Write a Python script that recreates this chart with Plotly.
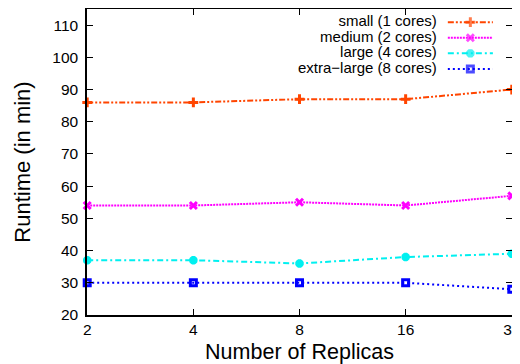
import math
import plotly.graph_objects as go

replicas = [2, 4, 8, 16, 32]
tick_labels = ["2", "4", "8", "16", "32"]
series_names = ["small (1 cores)", "medium (2 cores)", "large (4 cores)", "extra\u2212large (8 cores)"]
small = [86, 86, 87, 87, 90]
medium = [54, 54, 55, 54, 57]
large = [37, 37, 36, 38, 39]
xlarge = [30, 30, 30, 30, 28]
y_ticks = [20, 30, 40, 50, 60, 70, 80, 90, 100, 110]

colors = ["#ff4500", "#ff00ff", "#00f0f0", "#0000ff"]
dashes = ["6px,2px,2px,2px,2px,2px", "2px,1px", "6px,3px,2px,3px", "2px,3px"]
symbols = ["cross-thin-open", "x-thin-open", "asterisk-open", "square-open"]
msizes = [7, 7, 7, 6]

fig = go.Figure()
for name, vals, c, d, s, ms in zip(series_names, [small, medium, large, xlarge], colors, dashes, symbols, msizes):
    fig.add_trace(go.Scatter(
        x=replicas, y=vals, mode="lines+markers", name=name, showlegend=False,
        line=dict(color=c, width=2, dash=d),
        marker=dict(symbol=s, size=ms, color=c, line=dict(color=c, width=3)),
        cliponaxis=False,
    ))

# custom gnuplot-style legend (text on the left, sample on the right)
leg_top = 0.957
leg_step = 0.051
leg_y = [leg_top - i * leg_step for i in range(len(series_names))]
fig.add_trace(go.Scatter(
    x=[0.823] * len(series_names), y=leg_y, xaxis="x2", yaxis="y2",
    mode="text", text=series_names, textposition="middle left",
    textfont=dict(size=15, color="#000000"), showlegend=False, hoverinfo="skip",
))
for yy, c, d, s, ms in zip(leg_y, colors, dashes, symbols, msizes):
    fig.add_trace(go.Scatter(
        x=[0.849, 0.902, 0.955], y=[yy, yy, yy], xaxis="x2", yaxis="y2",
        mode="lines+markers", showlegend=False, hoverinfo="skip",
        line=dict(color=c, width=2, dash=d),
        marker=dict(symbol=s, size=[0, ms, 0], color=c, line=dict(color=c, width=3)),
    ))

axis_font = dict(family="Liberation Sans, Arial, sans-serif", size=15.5, color="#000000")
# the page body adds an 8px offset, so the figure is sized to fill the rest of the window
fig.update_layout(
    width=512, height=356,
    margin=dict(l=79, r=8, t=1, b=49),
    paper_bgcolor="white", plot_bgcolor="white",
    font=dict(family="Liberation Sans, Arial, sans-serif", color="#000000"),
    xaxis=dict(type="log", range=[math.log10(2) - 0.0006, math.log10(32) + 0.0006],
               tickvals=replicas, ticktext=tick_labels, automargin=False,
               ticklabeloverflow="allow",
               ticks="inside", ticklen=6, tickwidth=1, tickcolor="#000000",
               showline=True, linecolor="#000000", linewidth=1.5, mirror="ticks",
               showgrid=False, zeroline=False, tickfont=axis_font,
               title=dict(text="Number of Replicas", font=dict(size=21.5), standoff=9)),
    yaxis=dict(range=[20, 115], tickvals=y_ticks, automargin=False,
               ticks="inside", ticklen=6, tickwidth=1, tickcolor="#000000",
               showline=True, linecolor="#000000", linewidth=1.5, mirror="ticks",
               showgrid=False, zeroline=False, tickfont=axis_font, ticklabelstandoff=4,
               title=dict(text="Runtime (in min)", font=dict(size=22), standoff=16)),
    xaxis2=dict(range=[0, 1], overlaying="x", visible=False, domain=[0, 1]),
    yaxis2=dict(range=[0, 1], overlaying="y", visible=False),
)

fig.write_html("out.html")
